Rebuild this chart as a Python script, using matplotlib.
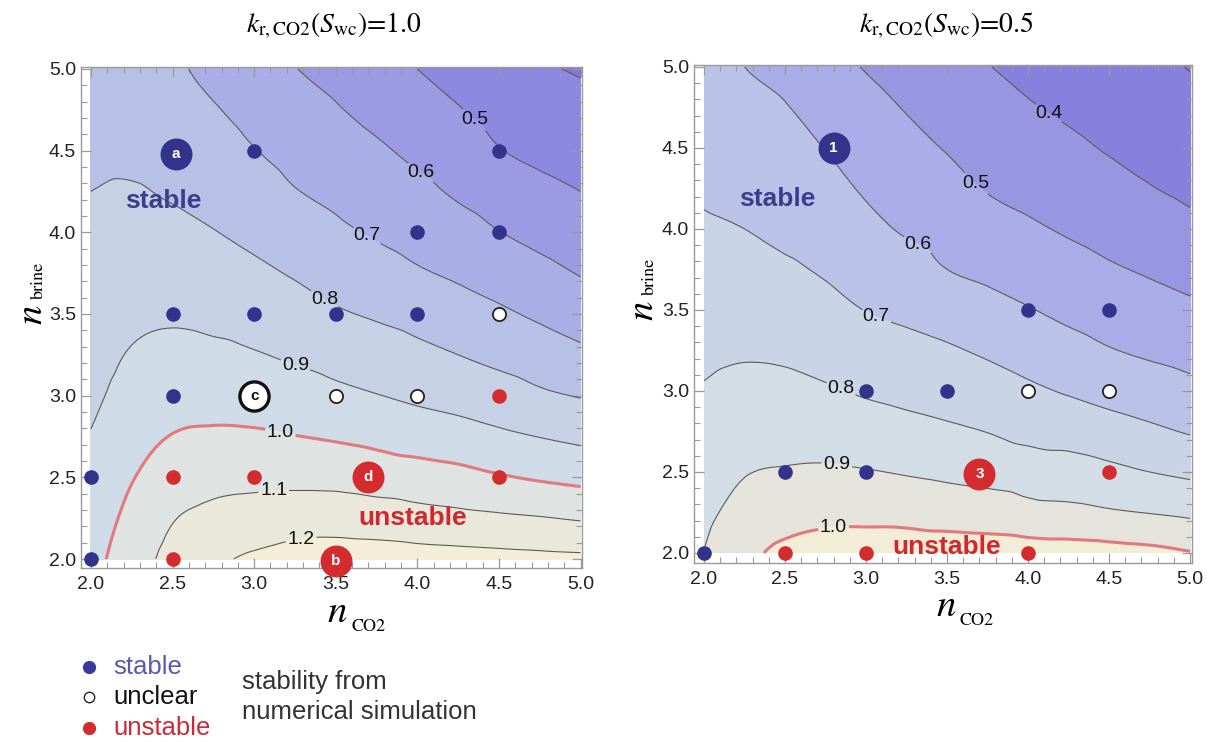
import matplotlib as mpl
import matplotlib.pyplot as plt
import matplotlib.tri as mtri
import numpy as np
from matplotlib.ticker import MultipleLocator, FormatStrFormatter

mpl.use('agg')
plt.rcParams['font.family'] = ['Liberation Sans', 'DejaVu Sans']
plt.rcParams['mathtext.fontset'] = 'stix'

W, H = 1217, 743

# grid of exponents (n_CO2 columns, n_brine rows)
n_vals = [2.0, 2.25, 2.5, 2.75, 3.0, 3.25, 3.5, 3.75, 4.0, 4.25, 4.5, 4.75, 5.0]

# contour quantity, one list per n_CO2 column, n_brine = 2.0 ... 5.0
ratio_kr10 = [
    [0.97, 0.95, 0.93, 0.905, 0.88, 0.86, 0.845, 0.83, 0.815, 0.80, 0.785, 0.77, 0.755],
    [1.05, 1.025, 0.995, 0.965, 0.935, 0.907, 0.88, 0.86, 0.835, 0.807, 0.78, 0.76, 0.74],
    [1.13, 1.095, 1.05, 1.003, 0.965, 0.925, 0.888, 0.856, 0.825, 0.79, 0.765, 0.74, 0.715],
    [1.18, 1.125, 1.07, 1.013, 0.967, 0.921, 0.875, 0.838, 0.803, 0.77, 0.74, 0.707, 0.675],
    [1.215, 1.142, 1.075, 1.012, 0.96, 0.906, 0.862, 0.818, 0.778, 0.74, 0.703, 0.67, 0.64],
    [1.24, 1.155, 1.075, 1.002, 0.945, 0.886, 0.84, 0.792, 0.75, 0.704, 0.67, 0.635, 0.602],
    [1.245, 1.16, 1.07, 0.99, 0.922, 0.865, 0.81, 0.765, 0.717, 0.68, 0.64, 0.606, 0.578],
    [1.245, 1.15, 1.055, 0.975, 0.903, 0.845, 0.79, 0.738, 0.69, 0.65, 0.613, 0.575, 0.54],
    [1.24, 1.135, 1.045, 0.955, 0.883, 0.822, 0.77, 0.71, 0.665, 0.622, 0.58, 0.54, 0.50],
    [1.235, 1.125, 1.03, 0.94, 0.865, 0.80, 0.745, 0.685, 0.637, 0.587, 0.55, 0.505, 0.47],
    [1.23, 1.115, 1.008, 0.918, 0.843, 0.775, 0.715, 0.658, 0.602, 0.555, 0.504, 0.468, 0.435],
    [1.225, 1.105, 0.99, 0.898, 0.815, 0.75, 0.685, 0.627, 0.573, 0.523, 0.48, 0.445, 0.41],
    [1.22, 1.092, 0.975, 0.88, 0.795, 0.72, 0.655, 0.595, 0.545, 0.50, 0.463, 0.428, 0.392],
]

ratio_kr05 = [
    [0.902, 0.878, 0.855, 0.832, 0.806, 0.782, 0.76, 0.738, 0.71, 0.69, 0.673, 0.655, 0.637],
    [0.975, 0.935, 0.895, 0.86, 0.825, 0.79, 0.762, 0.73, 0.70, 0.672, 0.647, 0.623, 0.60],
    [1.02, 0.962, 0.907, 0.868, 0.825, 0.784, 0.75, 0.713, 0.68, 0.655, 0.63, 0.604, 0.58],
    [1.04, 0.975, 0.912, 0.862, 0.81, 0.765, 0.728, 0.69, 0.66, 0.628, 0.598, 0.565, 0.53],
    [1.045, 0.975, 0.905, 0.845, 0.79, 0.742, 0.698, 0.66, 0.623, 0.59, 0.56, 0.528, 0.495],
    [1.045, 0.972, 0.893, 0.83, 0.775, 0.727, 0.68, 0.637, 0.59, 0.56, 0.525, 0.495, 0.465],
    [1.048, 0.96, 0.88, 0.815, 0.76, 0.71, 0.66, 0.60, 0.565, 0.53, 0.495, 0.465, 0.435],
    [1.047, 0.95, 0.868, 0.798, 0.742, 0.687, 0.631, 0.58, 0.538, 0.495, 0.465, 0.433, 0.403],
    [1.045, 0.93, 0.855, 0.772, 0.716, 0.66, 0.605, 0.558, 0.513, 0.475, 0.44, 0.407, 0.378],
    [1.04, 0.925, 0.838, 0.765, 0.692, 0.633, 0.578, 0.535, 0.49, 0.455, 0.418, 0.385, 0.356],
    [1.035, 0.91, 0.822, 0.74, 0.668, 0.605, 0.555, 0.51, 0.468, 0.43, 0.393, 0.363, 0.335],
    [1.025, 0.897, 0.80, 0.717, 0.648, 0.585, 0.535, 0.49, 0.447, 0.404, 0.375, 0.347, 0.318],
    [1.005, 0.883, 0.782, 0.693, 0.625, 0.568, 0.517, 0.468, 0.422, 0.382, 0.352, 0.323, 0.297],
]

# simulation results (n_CO2, n_brine)
stable10_x = [3.0, 4.5, 4.0, 4.5, 2.5, 3.0, 3.5, 4.0, 2.5, 2.0, 2.0]
stable10_y = [4.5, 4.5, 4.0, 4.0, 3.5, 3.5, 3.5, 3.5, 3.0, 2.5, 2.0]
unclear10_x = [4.5, 3.5, 4.0]
unclear10_y = [3.5, 3.0, 3.0]
unstable10_x = [4.5, 2.5, 3.0, 4.5, 2.5]
unstable10_y = [3.0, 2.5, 2.5, 2.5, 2.0]

stable05_x = [4.0, 4.5, 3.0, 3.5, 2.5, 3.0, 2.0]
stable05_y = [3.5, 3.5, 3.0, 3.0, 2.5, 2.5, 2.0]
unclear05_x = [4.0, 4.5]
unclear05_y = [3.0, 3.0]
unstable05_x = [4.5, 2.5, 3.0, 4.0]
unstable05_y = [2.5, 2.0, 2.0, 2.0]

# labelled cases: (x, y, letter, kind)
cases10 = [(2.52, 4.48, 'a', 'stable'), (3.0, 3.0, 'c', 'unclear'),
           (3.70, 2.50, 'd', 'unstable'), (3.50, 1.99, 'b', 'unstable')]
cases05 = [(2.80, 4.50, '1', 'stable'), (3.70, 2.49, '3', 'unstable')]

BLUE = '#33338c'
RED = '#d42b2f'

fill10 = ['#8076dc', '#8d88e0', '#9b9ae3', '#a9aee6', '#b7c1e5',
          '#c6d1e6', '#cfdbe7', '#dfe3e1', '#eae8db', '#f4eed8']
fill05 = ['#7b70d8', '#8880dd', '#9895e1', '#a9ace6', '#bac3e7',
          '#c9d4e7', '#d3dde6', '#e4e4dc', '#f3edd8']


def px(ax_box):
    l, t, r, b = ax_box
    return [l / W, 1 - b / H, (r - l) / W, (b - t) / H]


def draw_panel(ax, cols, levels, fills, lines, label_pos, st, un, us, cases,
               txt_stable, txt_unstable):
    gx, gy = np.meshgrid(n_vals, n_vals)
    z = np.array(cols).T
    # smooth contouring of the read-off grid (matplotlib tri refiner)
    tri = mtri.Triangulation(gx.ravel(), gy.ravel())
    interp = mtri.CubicTriInterpolator(tri, z.ravel(), kind='geom')
    tri_f, z_f = mtri.UniformTriRefiner(tri).refine_field(z.ravel(), triinterpolator=interp, subdiv=3)

    ax.tricontourf(tri_f, z_f, levels=levels, colors=fills, zorder=1)
    lc = ['#e07a7e' if abs(v - 1.0) < 1e-6 else '#5a5a5a' for v in lines]
    lw = [2.2 if abs(v - 1.0) < 1e-6 else 0.8 for v in lines]
    cs = ax.tricontour(tri_f, z_f, levels=lines, colors=lc, linewidths=lw, zorder=2)
    labels = ax.clabel(cs, fmt='%.1f', fontsize=14, colors='#111111', inline=True,
                       inline_spacing=2, manual=label_pos)
    for t in labels:
        t.set_rotation(0)

    ax.plot(st[0], st[1], 'o', ms=9.5, color=BLUE, zorder=4, clip_on=False)
    ax.plot(un[0], un[1], 'o', ms=9.5, mfc='white', mec='#222222', mew=1.3, zorder=4, clip_on=False)
    ax.plot(us[0], us[1], 'o', ms=9.5, color=RED, zorder=4, clip_on=False)
    for x, y, s, kind in cases:
        if kind == 'unclear':
            ax.plot(x, y, 'o', ms=21, mfc='white', mec='#111111', mew=2.4, zorder=5, clip_on=False)
            tc = '#111111'
        else:
            ax.plot(x, y, 'o', ms=22, color=BLUE if kind == 'stable' else RED, zorder=5, clip_on=False)
            tc = 'white'
        ax.text(x, y, s, ha='center', va='center', color=tc, fontsize=11,
                fontweight='bold', zorder=6)

    ax.text(txt_stable[0], txt_stable[1], 'stable', color='#3d3d8f', fontsize=19,
            fontweight='bold', ha='center', va='center', zorder=3)
    ax.text(txt_unstable[0], txt_unstable[1], 'unstable', color='#d0282e', fontsize=19,
            fontweight='bold', ha='center', va='center', zorder=3)

    ax.set_xticks([2.0, 2.5, 3.0, 3.5, 4.0, 4.5, 5.0])
    ax.set_yticks([2.0, 2.5, 3.0, 3.5, 4.0, 4.5, 5.0])
    ax.xaxis.set_minor_locator(MultipleLocator(0.1))
    ax.yaxis.set_minor_locator(MultipleLocator(0.1))
    ax.xaxis.set_major_formatter(FormatStrFormatter('%.1f'))
    ax.yaxis.set_major_formatter(FormatStrFormatter('%.1f'))
    ax.tick_params(which='both', direction='in', top=True, right=True, color='#9a9a9a')
    ax.tick_params(which='major', length=7, width=0.9, labelsize=14, labelcolor='#222222')
    ax.tick_params(axis='x', which='major', pad=6)
    ax.tick_params(axis='y', which='major', pad=3.5)
    ax.tick_params(which='minor', length=4, width=0.8)
    for sp in ax.spines.values():
        sp.set_color('#9a9a9a')
        sp.set_linewidth(1.0)


fig = plt.figure(figsize=(W / 100, H / 100), dpi=100)

ax1 = fig.add_axes(px((81, 67, 582, 568)))
ax1.set_xlim(1.939, 5.009)
ax1.set_ylim(1.945, 5.012)
draw_panel(ax1, ratio_kr10, [0.3, 0.4, 0.5, 0.6, 0.7, 0.8, 0.9, 1.0, 1.1, 1.2, 1.3], fill10,
           [0.4, 0.5, 0.6, 0.7, 0.8, 0.9, 1.0, 1.1, 1.2],
           [(4.35, 4.69), (3.99, 4.32), (3.68, 3.96), (3.43, 3.59), (3.25, 3.18),
            (3.16, 2.77), (3.12, 2.40), (3.29, 2.11)],
           (stable10_x, stable10_y), (unclear10_x, unclear10_y), (unstable10_x, unstable10_y),
           cases10, (2.44, 4.19), (3.97, 2.25))

ax2 = fig.add_axes(px((694, 65, 1192, 563)))
ax2.set_xlim(1.938, 5.012)
ax2.set_ylim(1.938, 5.012)
draw_panel(ax2, ratio_kr05, [0.2, 0.3, 0.4, 0.5, 0.6, 0.7, 0.8, 0.9, 1.0, 1.1], fill05,
           [0.3, 0.4, 0.5, 0.6, 0.7, 0.8, 0.9, 1.0],
           [(4.12, 4.70), (3.68, 4.28), (3.30, 3.86), (3.06, 3.45), (2.84, 3.0),
            (2.82, 2.55), (2.80, 2.15)],
           (stable05_x, stable05_y), (unclear05_x, unclear05_y), (unstable05_x, unstable05_y),
           cases05, (2.45, 4.185), (3.50, 2.035))

# overlay in pixel coordinates for titles, axis labels and the key
ov = fig.add_axes([0, 0, 1, 1])
ov.set_xlim(0, W)
ov.set_ylim(H, 0)
ov.axis('off')

ov.text(334, 33, r'$k_{\mathrm{r,CO2}}(S_{\mathrm{wc}})$=1.0', family='STIXGeneral',
        fontsize=20, ha='center', va='baseline')
ov.text(946, 33, r'$k_{\mathrm{r,CO2}}(S_{\mathrm{wc}})$=0.5', family='STIXGeneral',
        fontsize=20, ha='center', va='baseline')

for x0, y0 in [(327, 622), (936, 616)]:
    ov.text(x0, y0, 'n', family='STIXGeneral', style='italic', fontsize=28, va='baseline')
    ov.text(x0 + 24, y0 + 9, 'CO2', family='STIXGeneral', fontsize=13, va='baseline')

for x0, y0 in [(41, 324), (652, 320)]:
    ov.text(x0, y0, 'n', family='STIXGeneral', style='italic', fontsize=28, rotation=90,
            rotation_mode='anchor', ha='left', va='baseline')
    ov.text(x0 + 2, y0 - 25, 'brine', family='STIXGeneral', fontsize=13, rotation=90,
            rotation_mode='anchor', ha='left', va='baseline')

ov.plot(89, 667, 'o', ms=8.5, color='#3a3a9a')
ov.plot(89, 697, 'o', ms=7.5, mfc='white', mec='#222222', mew=1.0)
ov.plot(89, 728, 'o', ms=8.5, color=RED)
ov.text(113, 667, 'stable', fontsize=18.5, color='#5a5aaa', va='center')
ov.text(113, 697, 'unclear', fontsize=18.5, color='#111111', va='center')
ov.text(113, 728, 'unstable', fontsize=18.5, color='#cc2a36', va='center')
ov.text(242, 682, 'stability from', fontsize=18.5, color='#333333', va='center')
ov.text(242, 712, 'numerical simulation', fontsize=18.5, color='#333333', va='center')

plt.savefig('out.png', dpi=100)
plt.close(fig)
